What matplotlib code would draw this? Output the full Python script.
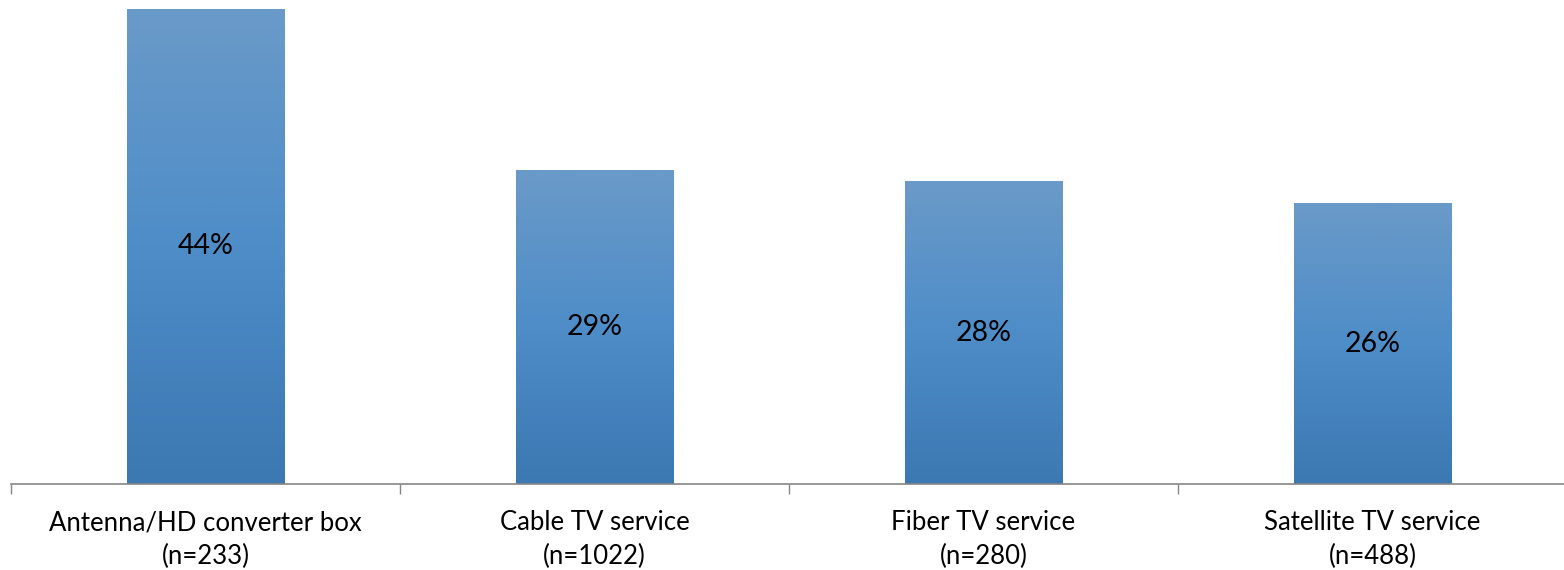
import numpy as np
import matplotlib
matplotlib.use("Agg")
import matplotlib.pyplot as plt
from matplotlib.colors import LinearSegmentedColormap

categories = ["Antenna/HD converter box", "Cable TV service", "Fiber TV service", "Satellite TV service"]
sample_sizes = [233, 1022, 280, 488]
shares = [44, 29, 28, 26]

BAR_TOP = "#6a9ac8"
BAR_MID = "#4e8dc8"
BAR_BOTTOM = "#3c78b2"
AXIS_GRAY = "#868686"

plt.rcParams["font.family"] = ["Lato", "DejaVu Sans"]

W, H = 1564, 570
fig = plt.figure(figsize=(W / 100, H / 100), dpi=100)
ax = fig.add_axes([11 / W, 86 / H, 1556 / W, 484 / H])

# vertical gradient, top colour at the top of each bar
grad_cmap = LinearSegmentedColormap.from_list("bar", [BAR_BOTTOM, BAR_MID, BAR_TOP])
grad = np.linspace(0, 1, 256).reshape(-1, 1)

width = 0.404
x = np.arange(len(categories))
for xi, v in zip(x, shares):
    ax.imshow(grad, extent=[xi - width / 2, xi + width / 2, 0, v], origin="lower",
              aspect="auto", cmap=grad_cmap, interpolation="bilinear", zorder=2)
    ax.text(xi, v / 2, f"{v}%", ha="center", va="center", fontsize=20.5, color="black", zorder=3)

ax.set_xlim(-0.5, len(categories) - 0.5)
ax.set_ylim(0, 44 * 484 / 475)

for side in ["top", "right", "left"]:
    ax.spines[side].set_visible(False)
ax.spines["bottom"].set_color(AXIS_GRAY)
ax.spines["bottom"].set_linewidth(1.2)
ax.set_yticks([])

ax.set_xticks(np.arange(-0.5, len(categories), 1.0))
ax.set_xticklabels([])
ax.tick_params(axis="x", which="major", length=7, width=1, color=AXIS_GRAY, direction="out")
ax.set_xticks(x, minor=True)
ax.set_xticklabels([f"{c}\n(n={n})" for c, n in zip(categories, sample_sizes)], minor=True,
                   fontsize=18.5, linespacing=1.4)
ax.tick_params(axis="x", which="minor", length=0, pad=19)

fig.savefig("out.png", dpi=100, facecolor="white")
